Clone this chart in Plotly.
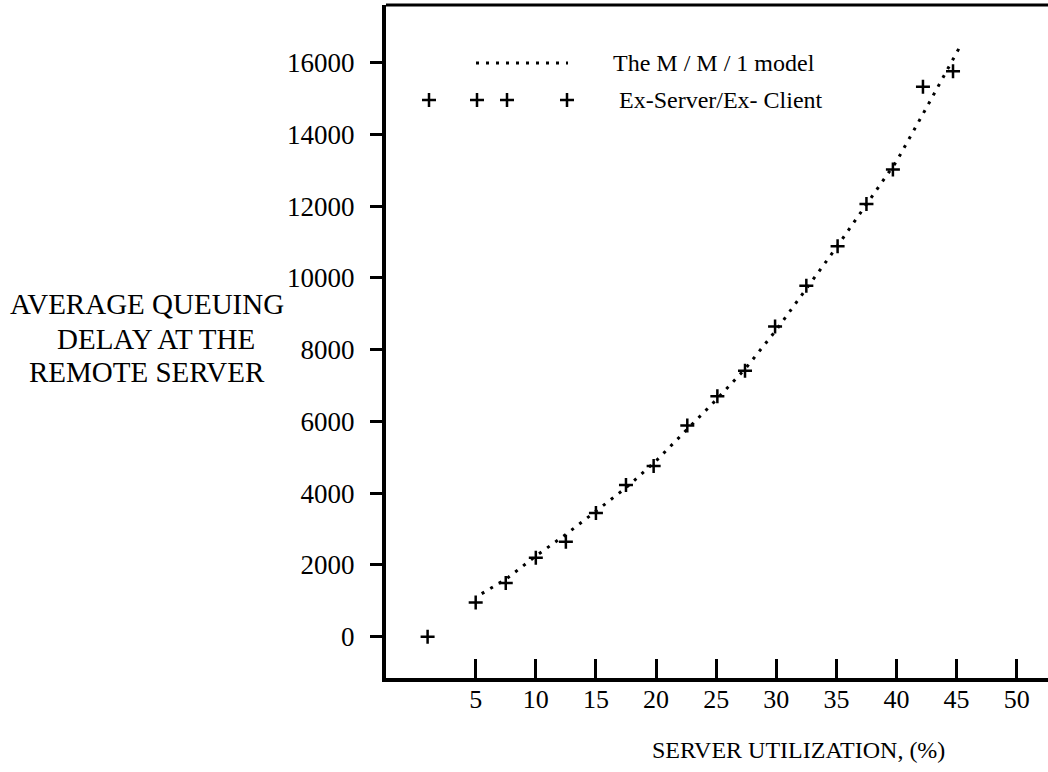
import plotly.graph_objects as go

# ---- data ----
utilization_model = [5.5, 7.5, 10, 12.5, 15, 17.5, 20, 22.5, 25, 27.5, 30, 32.5, 35, 37.5, 40, 42.5, 45.2]
delay_model = [1200, 1600, 2250, 2850, 3500, 4150, 4900, 5750, 6600, 7500, 8550, 9700, 10850, 12050, 13250, 14750, 16400]

utilization_exp = [1, 5, 7.5, 10, 12.5, 15, 17.5, 19.8, 22.6, 25.1, 27.4, 29.9, 32.5, 35.1, 37.5, 39.7, 42.2, 44.7]
delay_exp = [0, 950, 1500, 2200, 2650, 3450, 4230, 4760, 5890, 6700, 7410, 8650, 9780, 10880, 12060, 13020, 15330, 15760]

x_ticks = [5, 10, 15, 20, 25, 30, 35, 40, 45, 50]
y_ticks = [0, 2000, 4000, 6000, 8000, 10000, 12000, 14000, 16000]

series_names = ["The M / M / 1 model", "Ex-Server/Ex- Client"]
x_title = "SERVER UTILIZATION, (%)"
y_title_lines = ["AVERAGE QUEUING", "DELAY AT THE", "REMOTE SERVER"]

FONT = "Liberation Serif, Times New Roman, serif"
W, H = 1048, 772
L, R, T, B = 386, 0, 5, 94
PW, PH = W - L - R, H - T - B


def px_x(p):
    return (p - L) / PW


def px_y(p):
    return (H - B - p) / PH


DOT = "3px,7px"

fig = go.Figure()

fig.add_trace(go.Scatter(
    x=utilization_model, y=delay_model, mode="lines", name=series_names[0],
    line=dict(color="black", width=3, dash=DOT), showlegend=False, hoverinfo="skip"))

fig.add_trace(go.Scatter(
    x=utilization_exp, y=delay_exp, mode="markers", name=series_names[1],
    marker=dict(symbol="cross-thin", size=10, line=dict(color="black", width=2.5), color="black"),
    showlegend=False))

# ---- hand-drawn style legend keys (overlay axes in paper fractions) ----
fig.add_trace(go.Scatter(
    x=[px_x(476), px_x(568)], y=[px_y(63), px_y(63)], xaxis="x2", yaxis="y2",
    mode="lines", line=dict(color="black", width=3, dash=DOT), showlegend=False, hoverinfo="skip"))
fig.add_trace(go.Scatter(
    x=[px_x(429), px_x(477), px_x(507), px_x(567)], y=[px_y(100)] * 4, xaxis="x2", yaxis="y2",
    mode="markers", marker=dict(symbol="cross-thin", size=10, line=dict(color="black", width=2.5)),
    showlegend=False, hoverinfo="skip"))

annotations = [
    dict(text=series_names[0], x=px_x(611), y=px_y(63), xref="paper", yref="paper",
         xanchor="left", yanchor="middle", showarrow=False, font=dict(family=FONT, size=24, color="black")),
    dict(text=series_names[1], x=px_x(617), y=px_y(100), xref="paper", yref="paper",
         xanchor="left", yanchor="middle", showarrow=False, font=dict(family=FONT, size=24, color="black")),
    dict(text=x_title, x=px_x(798), y=px_y(750), xref="paper", yref="paper",
         xanchor="center", yanchor="middle", showarrow=False, font=dict(family=FONT, size=24, color="black")),
]
for line_text, cx, cy in zip(y_title_lines, [147, 156, 147], [304, 339, 372]):
    annotations.append(dict(text=line_text, x=px_x(cx), y=px_y(cy), xref="paper", yref="paper",
                            xanchor="center", yanchor="middle", showarrow=False,
                            font=dict(family=FONT, size=29, color="black")))

fig.update_layout(
    width=W, height=H,
    margin=dict(l=L, r=R, t=T, b=B, pad=0),
    paper_bgcolor="white", plot_bgcolor="white",
    font=dict(family=FONT, color="black"),
    xaxis=dict(range=[-2.46, 52.6], tickvals=x_ticks, ticktext=[str(v) for v in x_ticks],
               showgrid=False, zeroline=False, showline=True, linecolor="black", linewidth=4,
               ticks="inside", ticklen=19, tickwidth=3, tickcolor="black",
               tickfont=dict(family=FONT, size=26, color="black"), ticklabelstandoff=-5),
    yaxis=dict(range=[-1151, 17608], tickvals=y_ticks, ticktext=[str(v) for v in y_ticks],
               showgrid=False, zeroline=False, showline=True, linecolor="black", linewidth=4,
               ticks="outside", ticklen=12, tickwidth=3, tickcolor="black",
               tickfont=dict(family=FONT, size=27, color="black"), ticklabelstandoff=10),
    xaxis2=dict(overlaying="x", range=[0, 1], visible=False, fixedrange=True),
    yaxis2=dict(overlaying="y", range=[0, 1], visible=False, fixedrange=True),
    shapes=[dict(type="line", xref="paper", yref="paper", x0=0, x1=1, y0=1, y1=1,
                 line=dict(color="black", width=3))],
    annotations=annotations,
    showlegend=False,
)

fig.write_html("out.html")
